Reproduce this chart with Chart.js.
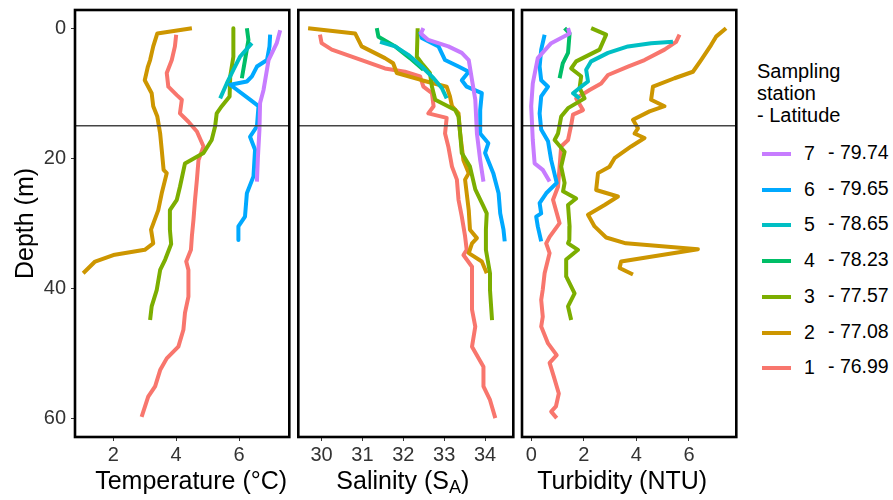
<!DOCTYPE html>
<html>
<head>
<meta charset="utf-8">
<script src="https://cdn.jsdelivr.net/npm/chart.js@4.4.1/dist/chart.umd.min.js"></script>
<style>
  body { margin: 0; background: #fff; font-family: "Liberation Sans", Arial, sans-serif; }
  #wrap { position: relative; width: 893px; height: 500px; overflow: hidden; }
  canvas { position: absolute; top: 0; }
  #legend { position: absolute; left: 757px; top: 60px; color: #000; }
  #legend .ttl { font-size: 20px; line-height: 22px; }
  .item { position: absolute; left: 0; height: 20px; font-size: 19.5px; white-space: nowrap; }
  .item .swatch { position: absolute; left: 5px; top: 8px; width: 29px; height: 4px; }
  .item .num { position: absolute; left: 47px; top: -2px; }
  .item .lat { position: absolute; left: 71px; top: -3px; }
</style>
</head>
<body>
<div id="wrap">
  <canvas id="tempChart" width="292" height="500" style="left:0px"></canvas>
  <canvas id="salChart" width="220" height="500" style="left:296px"></canvas>
  <canvas id="turbChart" width="220" height="500" style="left:519px"></canvas>
  <div id="legend">
    <div class="ttl">Sampling<br>station<br>- Latitude</div>
  </div>
</div>
<script>
// stations and their latitudes (legend order top to bottom = 7..1)
const stations = ["7", "6", "5", "4", "3", "2", "1"];
const latitudes = ["79.74", "79.65", "78.65", "78.23", "77.57", "77.08", "76.99"];
const colors = ["#C77CFF", "#00A9FF", "#00BFC4", "#00BE67", "#7CAE00", "#CD9600", "#F8766D"];

// tick labels
const depthTicks = [0, 20, 40, 60];
const tempTicks = [2, 4, 6];
const salTicks = [30, 31, 32, 33, 34];
const turbTicks = [0, 2, 4, 6];
const mixedLayerDepth = 15;

// profiles as [value, depth (m)]
// temperature (°C)
const temp7 = [[7.31,0.3],[7.2,2.3],[6.94,4.9],[6.78,9.5],[6.67,11.5],[6.65,15.6],[6.6,20],[6.57,23.6]];
const temp6 = [[6.99,1],[6.97,2.8],[6.89,4.9],[6.57,5.9],[6.41,7.4],[6.25,8.2],[5.72,8.7],[6.35,11],[6.62,12],[6.57,15.1],[6.35,16.7],[6.51,18.7],[6.46,22.8],[6.25,25.4],[6.19,29],[5.98,30.5],[5.98,32.6]];
const temp5 = [[6.41,2.3],[6.03,4.4],[5.82,6.4],[5.61,8.5],[5.4,10.8]];
const temp4 = [[6.25,0],[6.3,1.8],[6.19,4.9],[6.09,7.7]];
const temp3 = [[5.82,0],[5.82,4.4],[5.72,7.4],[5.7,10.5],[5.45,12],[5.29,13.1],[5.24,15.1],[5.13,17.2],[4.87,19.2],[4.28,20.8],[4.12,24.4],[4.02,26.4],[3.8,28],[3.8,31],[3.84,33.2],[3.65,35.6],[3.49,37.2],[3.38,40.3],[3.22,42.8],[3.17,44.9]];
const temp2 = [[4.5,0],[3.4,0.8],[3.27,2.8],[3.17,4.9],[3.1,5.9],[3.0,8],[3.22,10],[3.27,12],[3.4,13.6],[3.49,16.2],[3.54,18.7],[3.6,21.8],[3.7,22.3],[3.54,25.4],[3.43,28],[3.2,31],[3.27,33.1],[3.0,34.1],[2.0,34.9],[1.42,35.9],[1.04,37.7]];
const temp1 = [[4.0,1],[3.96,2.8],[3.86,4.9],[3.7,6.9],[3.75,9],[4.02,10.3],[4.18,11],[4.12,13.1],[4.39,14.4],[4.66,15.9],[4.87,18.2],[4.71,20.3],[4.66,23.3],[4.6,26.4],[4.55,29.5],[4.5,32],[4.47,34.1],[4.32,35.9],[4.39,37.2],[4.39,41.3],[4.28,43.8],[4.23,46.4],[4.07,49],[3.7,50.8],[3.49,52.6],[3.33,55.1],[3.11,56.7],[2.9,59.8]];

// absolute salinity
const sal7 = [[32.49,0],[32.43,0.8],[32.61,1.8],[33.1,2.8],[33.43,3.8],[33.6,4.9],[33.68,8],[33.76,11],[33.8,16.2],[33.88,20.3],[33.96,23.6]];
const sal6 = [[32.41,0.5],[32.45,1.5],[32.86,2.8],[33.02,4.9],[33.35,5.9],[33.6,6.7],[33.43,8],[33.55,9],[33.92,10],[33.88,12.6],[33.88,16.2],[34.08,17.7],[34.0,19.2],[34.2,22.3],[34.33,25.4],[34.37,28.5],[34.45,31],[34.48,32.8]];
const sal5 = [[31.43,2.1],[31.8,2.8],[32.12,4.1],[32.45,5.9],[32.74,7.7],[32.94,9.2],[33.06,10.8]];
const sal4 = [[31.35,0],[31.39,1.3],[31.8,2.8],[32.16,4.6],[32.49,6.4]];
const sal3 = [[32.35,0],[32.33,4.4],[32.45,5.4],[32.65,6.9],[32.7,9],[32.78,11],[33.27,12.6],[33.35,13.6],[33.39,16.2],[33.43,19.2],[33.63,21.3],[33.76,24.8],[33.96,27.4],[34.04,28.5],[34.02,31],[34.02,34.1],[34.12,37.7],[34.12,40.3],[34.17,44.9]];
const sal2 = [[29.67,0],[30.82,0.8],[30.98,2.8],[31.55,4.6],[31.75,5.4],[31.84,6.9],[32.45,8],[33.06,9],[33.14,10.5],[33.19,12],[33.35,13.1],[33.39,16.2],[33.47,20.3],[33.6,22.3],[33.51,23.3],[33.6,28],[33.63,31],[33.8,32.3],[33.68,33.1],[33.6,34.6],[33.92,35.9],[34.04,37.7]];
const sal1 = [[29.96,1],[30.0,2.3],[30.25,3.3],[30.98,4.9],[31.55,6.2],[32.04,6.7],[32.41,7.4],[32.49,9],[32.7,10],[32.74,12],[32.61,13.1],[33.06,13.8],[33.02,16.2],[33.1,18.2],[33.19,21.3],[33.31,23.3],[33.35,26.4],[33.43,29],[33.51,32],[33.55,34.1],[33.47,34.9],[33.68,36.7],[33.68,43.3],[33.76,45.9],[33.68,49],[33.96,52.1],[33.96,55.1],[34.12,57.2],[34.25,60]];

// turbidity (NTU)
const turb7 = [[1.4,0],[1.46,0.8],[0.76,2.3],[0.25,4.6],[0.06,8.5],[0.0,12],[0.06,17.2],[0.13,20.8],[0.44,21.8],[0.7,23.6]];
const turb6 = [[0.51,1],[0.38,3.3],[0.32,5.9],[0.38,8],[0.64,9],[0.38,10.5],[0.32,13.1],[0.38,15.6],[0.64,17.4],[0.76,20.3],[0.97,23.8],[0.57,25.4],[0.32,26.9],[0.38,28.5],[0.19,29],[0.25,30.5],[0.38,32.8]];
const turb5 = [[5.39,2.1],[4.56,2.3],[3.68,2.8],[2.92,3.8],[2.28,5.1],[2.09,6.4],[2.16,8.2],[1.9,9],[1.59,10],[1.84,10.8]];
const turb4 = [[1.27,0],[1.46,0.8],[1.4,3.8],[1.2,5.4],[1.08,7.7]];
const turb3 = [[2.28,0],[2.85,1],[2.6,3.3],[1.71,5.1],[1.52,6.2],[1.9,7.4],[1.84,9.2],[2.03,10.8],[1.4,12.3],[1.14,13.6],[1.02,16.2],[0.89,17.2],[1.27,19],[1.14,21.3],[1.27,23.8],[1.21,25.1],[1.71,26.2],[1.4,27.2],[1.46,30.5],[1.45,32.6],[1.4,33.1],[1.78,34.1],[1.33,35.6],[1.33,38.2],[1.65,40.8],[1.4,42.8],[1.52,44.9]];
const turb2 = [[7.41,0],[7.03,1.3],[6.84,2.6],[6.46,4.9],[6.15,6.7],[5.45,7.7],[4.63,9],[4.56,11],[5.07,12],[4.5,12.8],[3.87,14.1],[4.06,15.4],[3.93,16.2],[4.31,16.9],[3.8,18.2],[3.17,20],[2.98,21.3],[2.54,22.3],[2.47,24.9],[3.3,25.9],[2.79,27.2],[2.16,28.7],[2.41,30.5],[2.85,32.2],[3.6,33.1],[6.34,34.0],[3.42,35.9],[3.36,36.9],[3.87,37.9]];
const turb1 = [[5.64,1],[5.51,2.1],[5.07,3.3],[4.31,4.9],[3.68,5.9],[2.92,7.2],[2.66,8.5],[2.22,9.5],[1.71,10.8],[1.97,12.6],[1.59,13.3],[1.52,14.9],[1.4,17.2],[1.14,18.2],[1.08,21.3],[1.02,24.4],[0.83,26.4],[1.08,30],[0.7,32.1],[0.57,33.1],[0.7,34.6],[0.51,37.7],[0.44,40.2],[0.38,41.8],[0.44,44.4],[0.38,45.9],[0.64,48.5],[0.97,50.3],[0.7,51.5],[0.86,53.6],[1.05,56.2],[0.94,58.2],[0.76,59],[0.97,60]];

Chart.defaults.font.family = "'Liberation Sans', Arial, sans-serif";
Chart.defaults.animation = false;

const tickColor = "#333";
const fontName = "'Liberation Sans', Arial, sans-serif";

// turns the [value, depth] rows of each station into line datasets
function toDatasets(series) {
  return series.map((rows, i) => ({
    label: stations[i] + " - " + latitudes[i],
    data: rows.map(r => ({ x: r[0], y: r[1] })),
    borderColor: colors[i],
    backgroundColor: colors[i],
    borderWidth: 4,
    pointRadius: 0,
    showLine: true,
    fill: false,
    borderJoinStyle: "round"
  }));
}

// black frame around the plot area + reference line at mixed layer depth
const panelDecor = {
  id: "panelDecor",
  afterDatasetsDraw(chart) {
    const { ctx, chartArea: a, scales } = chart;
    const y = scales.y.getPixelForValue(mixedLayerDepth);
    ctx.save();
    ctx.strokeStyle = "#444";
    ctx.lineWidth = 1.5;
    ctx.beginPath();
    ctx.moveTo(a.left, y);
    ctx.lineTo(a.right, y);
    ctx.stroke();
    ctx.strokeStyle = "#000";
    ctx.lineWidth = 2.6;
    ctx.strokeRect(a.left, a.top, a.right - a.left, a.bottom - a.top);
    ctx.restore();
  }
};

// x axis title, drawn by hand so salinity can get its subscript A
const axisTitle = {
  id: "axisTitle",
  afterDraw(chart, args, opts) {
    if (!opts.parts) return;
    const { ctx, chartArea: a } = chart;
    const main = "25px " + fontName;
    const small = "18px " + fontName;
    ctx.save();
    ctx.fillStyle = "#000";
    ctx.textBaseline = "middle";
    const widths = opts.parts.map(p => {
      ctx.font = p.sub ? small : main;
      return ctx.measureText(p.text).width;
    });
    let x = (a.left + a.right) / 2 + opts.shift - widths.reduce((s, w) => s + w, 0) / 2;
    const y = 481.7;
    opts.parts.forEach((p, i) => {
      ctx.font = p.sub ? small : main;
      ctx.fillText(p.text, x, p.sub ? y + 6 : y);
      x += widths[i];
    });
    ctx.restore();
  }
};

function makePanel(id, series, xMin, xMax, xTicks, titleParts, titleShift, showY, padLeft, padRight) {
  return new Chart(document.getElementById(id), {
    type: "scatter",
    data: { datasets: toDatasets(series) },
    options: {
      responsive: false,
      layout: { padding: { top: 10, left: padLeft, right: padRight, bottom: 0 } },
      plugins: {
        legend: { display: false },
        tooltip: { enabled: false },
        axisTitle: { parts: titleParts, shift: titleShift }
      },
      scales: {
        x: {
          type: "linear",
          min: xMin,
          max: xMax,
          afterBuildTicks: s => { s.ticks = xTicks.map(v => ({ value: v })); },
          afterFit: s => { s.height = 63; s.paddingLeft = 0; s.paddingRight = 0; },
          grid: { display: true, drawOnChartArea: false, drawTicks: true, tickLength: 4, color: tickColor, lineWidth: 1 },
          border: { display: false },
          ticks: { color: tickColor, font: { size: 20 }, padding: 2, maxRotation: 0, autoSkip: false },
          title: { display: false }
        },
        y: {
          type: "linear",
          reverse: true,
          min: -2.8,
          max: 62.9,
          display: showY,
          afterBuildTicks: s => { s.ticks = depthTicks.map(v => ({ value: v })); },
          afterFit: s => { s.width = showY ? 75 : 0; s.paddingTop = 0; s.paddingBottom = 0; },
          grid: { display: true, drawOnChartArea: false, drawTicks: true, tickLength: 4, color: tickColor, lineWidth: 1 },
          border: { display: false },
          ticks: { color: tickColor, font: { size: 20 }, padding: 5 },
          title: { display: true, text: "Depth (m)", color: "#000", font: { size: 25 }, padding: { top: 11, bottom: 0 } }
        }
      }
    },
    plugins: [panelDecor, axisTitle]
  });
}

makePanel("tempChart", [temp7, temp6, temp5, temp4, temp3, temp2, temp1], 0.78, 7.6, tempTicks,
  [{ text: "Temperature (°C)" }], 9, true, 0, 2.7);
makePanel("salChart", [sal7, sal6, sal5, sal4, sal3, sal2, sal1], 29.43, 34.69, salTicks,
  [{ text: "Salinity (S" }, { text: "A", sub: true }, { text: ")" }], -3, false, 2.3, 2.7);
makePanel("turbChart", [turb7, turb6, turb5, turb4, turb3, turb2, turb1], -0.35, 7.8, turbTicks,
  [{ text: "Turbidity (NTU)" }], -7, false, 3, 2.7);

// legend
const legend = document.getElementById("legend");
stations.forEach((s, i) => {
  const item = document.createElement("div");
  item.className = "item";
  item.style.top = (84 + i * 35.7) + "px";
  item.innerHTML = '<span class="swatch" style="background:' + colors[i] + '"></span>' +
    '<span class="num">' + s + '</span><span class="lat">- ' + latitudes[i] + '</span>';
  legend.appendChild(item);
});
</script>
</body>
</html>
